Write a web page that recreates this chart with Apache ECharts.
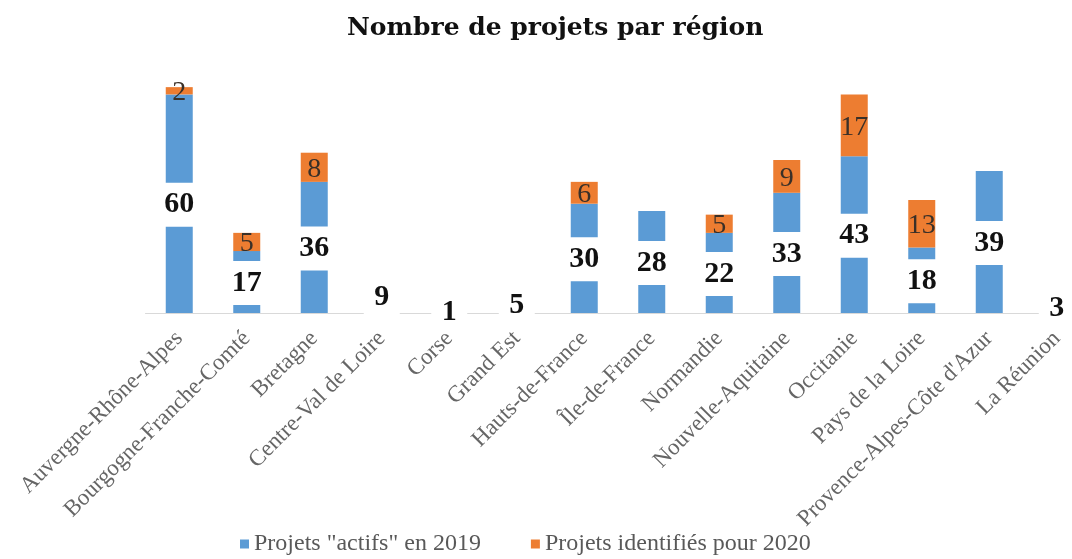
<!DOCTYPE html>
<html>
<head>
<meta charset="utf-8">
<script src="https://cdn.jsdelivr.net/npm/echarts@6/dist/echarts.min.js"></script>
<style>
  html, body { margin: 0; padding: 0; background: #fff; overflow: hidden; }
  #chart { width: 1100px; height: 559px; }
</style>
</head>
<body>
<div id="chart"></div>
<script>
// données
var regions = ['Auvergne-Rhône-Alpes', 'Bourgogne-Franche-Comté', 'Bretagne', 'Centre-Val de Loire',
  'Corse', 'Grand Est', 'Hauts-de-France', 'Île-de-France', 'Normandie', 'Nouvelle-Aquitaine',
  'Occitanie', 'Pays de la Loire', 'Provence-Alpes-Côte d\'Azur', 'La Réunion'];
var actifs2019 = [60, 17, 36, 9, 1, 5, 30, 28, 22, 33, 43, 18, 39, 3];
var identifies2020 = [2, 5, 8, 0, 0, 0, 6, 0, 5, 9, 17, 13, 0, 0];

var serif = '"Liberation Serif", "DejaVu Serif", serif';

// le graphique original est coupé à droite : le conteneur dépasse la fenêtre
var chart = echarts.init(document.getElementById('chart'));
var option = {
  animation: false,
  title: {
    text: 'Nombre de projets par région',
    left: 342,
    top: 11,
    textStyle: {
      fontFamily: '"DejaVu Serif", serif',
      fontSize: 25,
      fontWeight: 'bold',
      color: '#111'
    }
  },
  legend: {
    left: 235,
    top: 527,
    icon: 'rect',
    itemWidth: 9,
    itemHeight: 9,
    itemGap: 50,
    textStyle: { fontFamily: serif, fontSize: 24, color: '#595959' },
    data: ['Projets "actifs" en 2019', 'Projets identifiés pour 2020']
  },
  grid: {
    left: 145.5,
    width: 945,
    top: 58,
    bottom: 246
  },
  xAxis: {
    type: 'category',
    data: regions,
    axisLine: { lineStyle: { color: '#d9d9d9', width: 1 } },
    axisTick: { show: false },
    axisLabel: {
      interval: 0,
      rotate: 45,
      margin: 22,
      fontFamily: serif,
      fontSize: 23,
      color: '#666'
    }
  },
  yAxis: {
    type: 'value',
    min: 0,
    max: 70,
    show: false,
    splitLine: { show: false }
  },
  series: [
    {
      name: 'Projets "actifs" en 2019',
      type: 'bar',
      stack: 'total',
      barWidth: 27,
      itemStyle: { color: '#5b9bd5' },
      data: actifs2019,
      z: 2,
      label: {
        show: true,
        position: 'inside',
        offset: [0, 1],
        fontFamily: serif,
        fontSize: 30,
        fontWeight: 'bold',
        color: '#111',
        lineHeight: 30,
        width: 36,
        align: 'center',
        backgroundColor: '#fff',
        padding: [7, 0]
      }
    },
    {
      name: 'Projets identifiés pour 2020',
      type: 'bar',
      stack: 'total',
      barWidth: 27,
      itemStyle: { color: '#ed7d31' },
      data: identifies2020,
      label: {
        show: true,
        position: 'inside',
        offset: [0, 2],
        fontFamily: serif,
        fontSize: 28,
        color: '#3a3028',
        formatter: function (p) { return p.value ? p.value : ''; }
      }
    }
  ]
};
chart.setOption(option);
</script>
</body>
</html>
